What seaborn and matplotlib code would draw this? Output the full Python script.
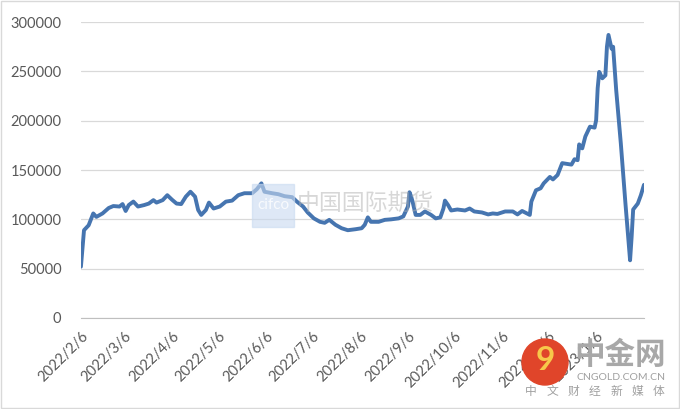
import pandas as pd
import matplotlib.pyplot as plt
import seaborn as sns
from matplotlib.patches import Rectangle, Ellipse

# days after 2022/2/6
day = [0, 2, 5, 8, 10, 14, 18, 21, 25, 27, 29, 31, 34, 37, 41, 44, 47, 49, 53, 56,
       59, 62, 65, 68, 71, 74, 76, 78, 81, 83, 86, 90, 94, 98, 102, 106, 111, 114, 117, 119,
       124, 128, 132, 137, 140, 144, 147, 151, 155, 158, 161, 165, 169, 173, 178, 182, 184, 186, 188, 193,
       197, 201, 206, 209, 212, 213, 214, 215, 217, 220, 223, 227, 230, 233, 235, 236, 238, 240, 244, 249,
       252, 255, 260, 264, 267, 270, 275, 280, 283, 286, 291, 292, 295, 298, 300, 304, 306, 309, 312, 316,
       318, 320, 322, 323, 325, 327, 330, 333, 334, 335, 336, 338, 340, 341, 342, 344, 345, 347, 350, 353,
       356, 357, 358, 361, 363, 365]
value = [52000, 89000, 94000, 106000, 102500, 106000, 111500, 113500, 113000, 115500,
         108500, 114500, 118000, 113000, 114500, 116000, 119500, 117000, 119500, 124500,
         120000, 116000, 115500, 123000, 128000, 123000, 109500, 104500, 109500, 117000,
         111000, 113000, 118000, 119000, 124500, 126500, 126500, 130500, 136500, 128000,
         126500, 125500, 123500, 122500, 118000, 113000, 107000, 101000, 97500, 96500,
         99500, 94500, 91000, 89000, 90000, 91000, 94500, 102000, 97500, 97500,
         99500, 100000, 101000, 103000, 113000, 127500, 123500, 118000, 104500, 104500,
         108000, 104500, 101000, 102000, 111000, 119000, 114500, 109000, 110000, 109000,
         111000, 108000, 107000, 105000, 106000, 105500, 108000, 108000, 105000, 108500,
         104500, 118000, 129500, 131500, 136500, 143000, 140500, 145000, 157000, 156000,
         155500, 161000, 160000, 176000, 172000, 184000, 194000, 193000, 200500, 233000,
         249500, 243000, 246000, 275000, 287000, 273000, 275000, 231000, 177000, 116000,
         58500, 82000, 110000, 116000, 124500, 135000]

start = pd.Timestamp("2022-02-06")
df = pd.DataFrame({"date": start + pd.to_timedelta(day, unit="D"), "value": value})

tick_dates = pd.date_range("2022-02-01", periods=13, freq="MS") + pd.Timedelta(days=5)
tick_labels = [f"{d.year}/{d.month}/{d.day}" for d in tick_dates[:-1]] + [""]

sns.set_style("white")
plt.rcParams['font.family'] = ['Lato', 'DejaVu Sans']

fig = plt.figure(figsize=(6.8, 4.09), dpi=100)
ax = fig.add_axes([0.119, 0.2225, 0.828, 0.7235])

sns.lineplot(data=df, x="date", y="value", ax=ax, color="#4675b0", linewidth=2.8)

ax.set_xlim(tick_dates[0], tick_dates[-1])
ax.set_ylim(0, 300000)
ax.set_yticks(range(0, 300001, 50000))
ax.set_xticks(tick_dates)
ax.set_xticklabels(tick_labels, rotation=45, ha="right", rotation_mode="anchor")
ax.grid(axis="y", color="#d9d9d9", linewidth=0.9)
ax.set_axisbelow(True)
for s in ["top", "right", "left"]:
    ax.spines[s].set_visible(False)
ax.spines["bottom"].set_color("#bfbfbf")
ax.tick_params(axis="x", length=5, color="#bfbfbf", labelsize=10.5, labelcolor="#595959", pad=3)
ax.tick_params(axis="y", length=0, labelsize=10.5, labelcolor="#595959", pad=14)
ax.set_xlabel("")
ax.set_ylabel("")

# watermarks
fig.patches.append(Rectangle((252 / 680, 1 - 227 / 409), 42 / 680, 43 / 409,
                             transform=fig.transFigure, color="#c9daf0", alpha=0.6, zorder=5))
fig.text(273 / 680, 1 - 205 / 409, "cifco", color="white", fontsize=11, ha="center", va="center",
         alpha=0.8, zorder=6)
fig.text(297 / 680, 1 - 203 / 409, "中国国际期货", family=["Noto Sans CJK SC"], fontsize=16.5,
         color="#b0b0b0", alpha=0.5, va="center", zorder=6)

fig.patches.append(Ellipse((545 / 680, 1 - 362 / 409), 46 / 680, 46 / 409, transform=fig.transFigure,
                           color="#e0452a", zorder=5))
fig.text(545 / 680, 1 - 361 / 409, "9", color="#f7c84a", fontsize=24, fontweight="bold",
         ha="center", va="center", zorder=6)
fig.text(620 / 680, 1 - 355 / 409, "中金网", family=["Noto Sans CJK SC"], fontsize=22,
         fontweight="bold", color="#a8a8a8", ha="center", va="center", zorder=6)
fig.text(621 / 680, 1 - 377 / 409, "CNGOLD.COM.CN", fontsize=7.5, color="#a0a0a0",
         ha="center", va="center", zorder=6)
for i, ch in enumerate("中文财经新媒体"):
    fig.text((531 + i * 21.3) / 680, 1 - 391 / 409, ch, family=["Noto Sans CJK SC"], fontsize=8.5,
             color="#a0a0a0", ha="center", va="center", zorder=6)

# chart border
fig.patches.append(Rectangle((0.002, 0.003), 0.996, 0.994, transform=fig.transFigure,
                             fill=False, edgecolor="#d9d9d9", linewidth=1))

fig.savefig("out.png", dpi=100)
